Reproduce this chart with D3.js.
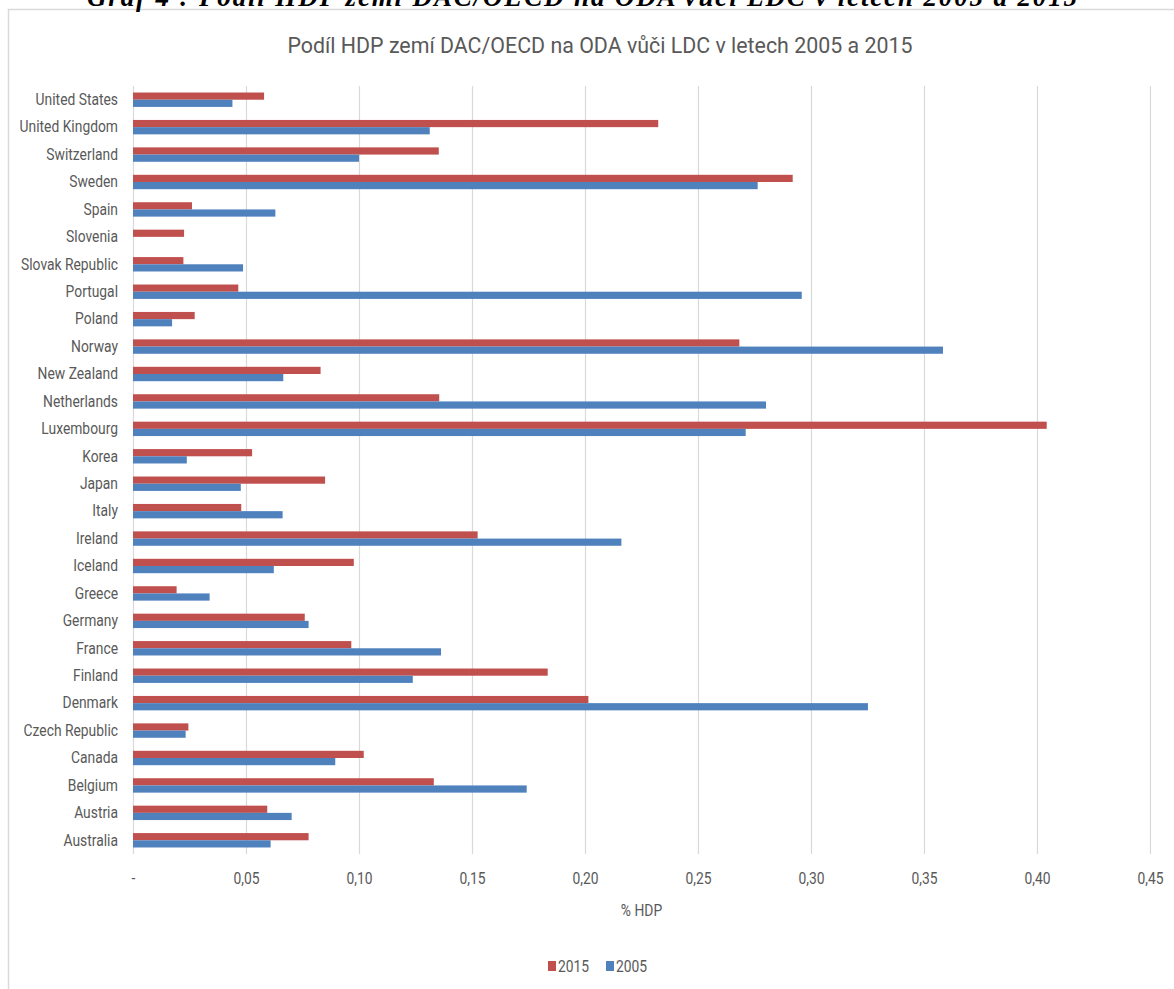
<!DOCTYPE html>
<html>
<head>
<meta charset="utf-8">
<script src="https://cdn.jsdelivr.net/npm/d3@7"></script>
<style>
  body { margin: 0; background: #fff; }
  svg text { font-family: Roboto, "Open Sans", sans-serif; fill: #595959; }
</style>
</head>
<body>
<svg id="chart" width="1174" height="989"></svg>
<script>
// countries as listed bottom -> top in the chart
var countries = ['Australia', 'Austria', 'Belgium', 'Canada', 'Czech Republic', 'Denmark', 'Finland',
    'France', 'Germany', 'Greece', 'Iceland', 'Ireland', 'Italy', 'Japan', 'Korea', 'Luxembourg',
    'Netherlands', 'New Zealand', 'Norway', 'Poland', 'Portugal', 'Slovak Republic', 'Slovenia',
    'Spain', 'Sweden', 'Switzerland', 'United Kingdom', 'United States'];

var values2015 = [0.0777, 0.0594, 0.1331, 0.1021, 0.0245, 0.2015, 0.1835,
    0.0966, 0.0760, 0.0193, 0.0977, 0.1525, 0.0479, 0.0850, 0.0527, 0.4043,
    0.1355, 0.0830, 0.2683, 0.0273, 0.0466, 0.0223, 0.0226,
    0.0261, 0.2919, 0.1353, 0.2324, 0.0580];

var values2005 = [0.0609, 0.0702, 0.1742, 0.0895, 0.0233, 0.3252, 0.1238,
    0.1363, 0.0777, 0.0339, 0.0623, 0.2161, 0.0662, 0.0477, 0.0238, 0.2711,
    0.2801, 0.0665, 0.3584, 0.0173, 0.2959, 0.0487, 0,
    0.0630, 0.2764, 0.1000, 0.1313, 0.0440];

var seriesNames = ['2015', '2005'];
var seriesColors = { '2015': '#c0504d', '2005': '#4f81bd' };
var xTicks = [0, 0.05, 0.10, 0.15, 0.20, 0.25, 0.30, 0.35, 0.40, 0.45];

// the original font is a narrow one (Calibri), so squeeze text horizontally around its anchor
var SQUEEZE = 0.84;
function squeeze(sel, sx) {
    sel.each(function() {
        var t = d3.select(this);
        var px = +t.attr('x') || 0, py = +t.attr('y') || 0;
        t.attr('transform', 'translate(' + px + ',' + py + ') scale(' + sx + ',1) translate(' + (-px) + ',' + (-py) + ')');
    });
}

var svg = d3.select('#chart');

var margin = { top: 86, right: 24, bottom: 135, left: 133 },
    width = +svg.attr('width') - margin.left - margin.right,
    height = +svg.attr('height') - margin.top - margin.bottom;

// outer chart frame (cut off on the right and bottom)
svg.append('rect')
    .attr('x', 8.5).attr('y', 9.5)
    .attr('width', 1200).attr('height', 1100)
    .attr('fill', '#fff')
    .attr('stroke', '#d9d9d9')
    .attr('stroke-width', 1.5);

// caption of the document above the frame, mostly cut off by the page edge
svg.append('text')
    .attr('x', 582).attr('y', 6)
    .attr('text-anchor', 'middle')
    .attr('textLength', 990)
    .style('font-family', '"Liberation Serif", "DejaVu Serif", serif')
    .style('font-weight', 'bold')
    .style('font-style', 'italic')
    .style('font-size', '27px')
    .style('fill', '#000')
    .text('Graf 4 : Podíl HDP zemí DAC/OECD na ODA vůči LDC v letech 2005 a 2015');

svg.append('text')
    .attr('x', 600).attr('y', 53)
    .attr('text-anchor', 'middle')
    .style('font-size', '23px')
    .text('Podíl HDP zemí DAC/OECD na ODA vůči LDC v letech 2005 a 2015')
    .call(squeeze, 0.93);

var g = svg.append('g').attr('transform', 'translate(' + margin.left + ',' + margin.top + ')');

var x = d3.scaleLinear()
    .domain([0, 0.45])
    .range([0, 1017]);

var y = d3.scaleBand()
    .domain(countries.slice().reverse())
    .range([0, height])
    .paddingInner(0.475)
    .paddingOuter(0.2375);

var ySub = d3.scaleBand()
    .domain(seriesNames)
    .range([0, y.bandwidth()]);

// vertical gridlines + tick labels
var xAxis = g.append('g')
    .attr('transform', 'translate(0,' + height + ')')
    .call(d3.axisBottom(x)
        .tickValues(xTicks)
        .tickSize(-height)
        .tickPadding(18)
        .tickFormat(function(d) { return d === 0 ? '-' : d3.format('.2f')(d).replace('.', ','); }));
xAxis.select('.domain').remove();
xAxis.selectAll('line').attr('stroke', '#d9d9d9').attr('stroke-width', 1.2);
xAxis.selectAll('text')
    .style('font-size', '16.5px')
    .attr('fill', '#595959')
    .call(squeeze, SQUEEZE);

var yAxis = g.append('g')
    .call(d3.axisLeft(y).tickSize(0).tickPadding(15));
yAxis.select('.domain').remove();
yAxis.selectAll('text')
    .style('font-size', '16.5px')
    .attr('fill', '#595959')
    .call(squeeze, SQUEEZE);

var rows = countries.map(function(c, i) {
    return { country: c, '2015': values2015[i], '2005': values2005[i] };
});

var groups = g.selectAll('.row')
    .data(rows)
    .enter().append('g')
    .attr('class', 'row')
    .attr('transform', function(d) { return 'translate(0,' + y(d.country) + ')'; });

groups.selectAll('rect')
    .data(function(d) {
        return seriesNames.map(function(s) { return { series: s, value: d[s] }; });
    })
    .enter().append('rect')
    .attr('x', x(0))
    .attr('y', function(d) { return ySub(d.series); })
    .attr('width', function(d) { return x(d.value) - x(0); })
    .attr('height', ySub.bandwidth())
    .attr('fill', function(d) { return seriesColors[d.series]; });

// axis title
svg.append('text')
    .attr('x', margin.left + x(0.225)).attr('y', 916)
    .attr('text-anchor', 'middle')
    .style('font-size', '16.5px')
    .text('% HDP')
    .call(squeeze, SQUEEZE);

// legend
var legend = svg.append('g').attr('transform', 'translate(548,961)');
var legendX = [0, 58];
seriesNames.forEach(function(s, i) {
    legend.append('rect')
        .attr('x', legendX[i]).attr('y', 0)
        .attr('width', 8).attr('height', 10)
        .attr('fill', seriesColors[s]);
    legend.append('text')
        .attr('x', legendX[i] + 10).attr('y', 11)
        .style('font-size', '16.5px')
        .text(s)
        .call(squeeze, SQUEEZE);
});
</script>
</body>
</html>
